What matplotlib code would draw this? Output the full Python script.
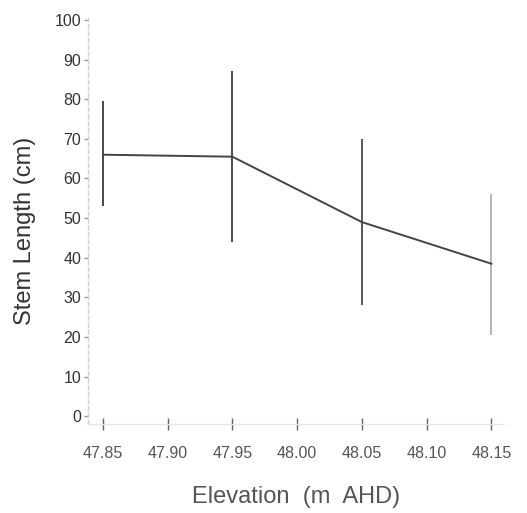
import matplotlib
matplotlib.use("Agg")
import matplotlib.pyplot as plt

elevation = [47.85, 47.95, 48.05, 48.15]
stem_mean = [66.0, 65.5, 49.0, 38.5]
err_upper = [79.5, 87.0, 70.0, 56.0]
err_lower = [53.0, 44.0, 28.0, 20.5]
bar_colors = ["#3a3a3a", "#3a3a3a", "#4a4a4a", "#b0b0b0"]
xticks = [47.85, 47.90, 47.95, 48.00, 48.05, 48.10, 48.15]
xticklabels = ["47.85", "47.90", "47.95", "48.00", "48.05", "48.10", "48.15"]
yticks = [0, 10, 20, 30, 40, 50, 60, 70, 80, 90, 100]

plt.rcParams['font.family'] = ['Liberation Sans', 'DejaVu Sans']

fig = plt.figure(figsize=(5.27, 5.13), dpi=100)
ax = fig.add_axes([0.167, 0.173, 0.79, 0.792])

ax.plot(elevation, stem_mean, color="#444444", lw=1.4, zorder=3)
for x, lo, hi, c in zip(elevation, err_lower, err_upper, bar_colors):
    ax.vlines(x, lo, hi, color=c, lw=1.3, zorder=2)

ax.set_xlim(47.8385, 48.16)
ax.set_ylim(-2, 100.5)
ax.set_xticks(xticks)
ax.set_xticklabels(xticklabels)
ax.set_yticks(yticks)

for s in ["top", "right"]:
    ax.spines[s].set_visible(False)
ax.spines["left"].set_color("#d0d0d0")
ax.spines["left"].set_linestyle((0, (3, 2)))
ax.spines["left"].set_linewidth(1.0)
ax.spines["bottom"].set_color("#e6e6e6")
ax.spines["bottom"].set_linewidth(0.8)

ax.tick_params(axis="y", direction="out", length=3, width=1, color="#999999",
               labelsize=11.5, labelcolor="#333333", pad=2)
ax.tick_params(axis="x", direction="inout", length=8, width=1, color="#666666",
               labelsize=11.5, labelcolor="#555555", pad=12)

ax.set_ylabel("Stem Length (cm)", fontsize=17, color="#333333")
ax.yaxis.set_label_coords(-0.125, 0.475)
ax.set_xlabel("Elevation  (m  AHD)", fontsize=17, color="#555555", labelpad=18)

fig.savefig("out.png", dpi=100, facecolor="white")
